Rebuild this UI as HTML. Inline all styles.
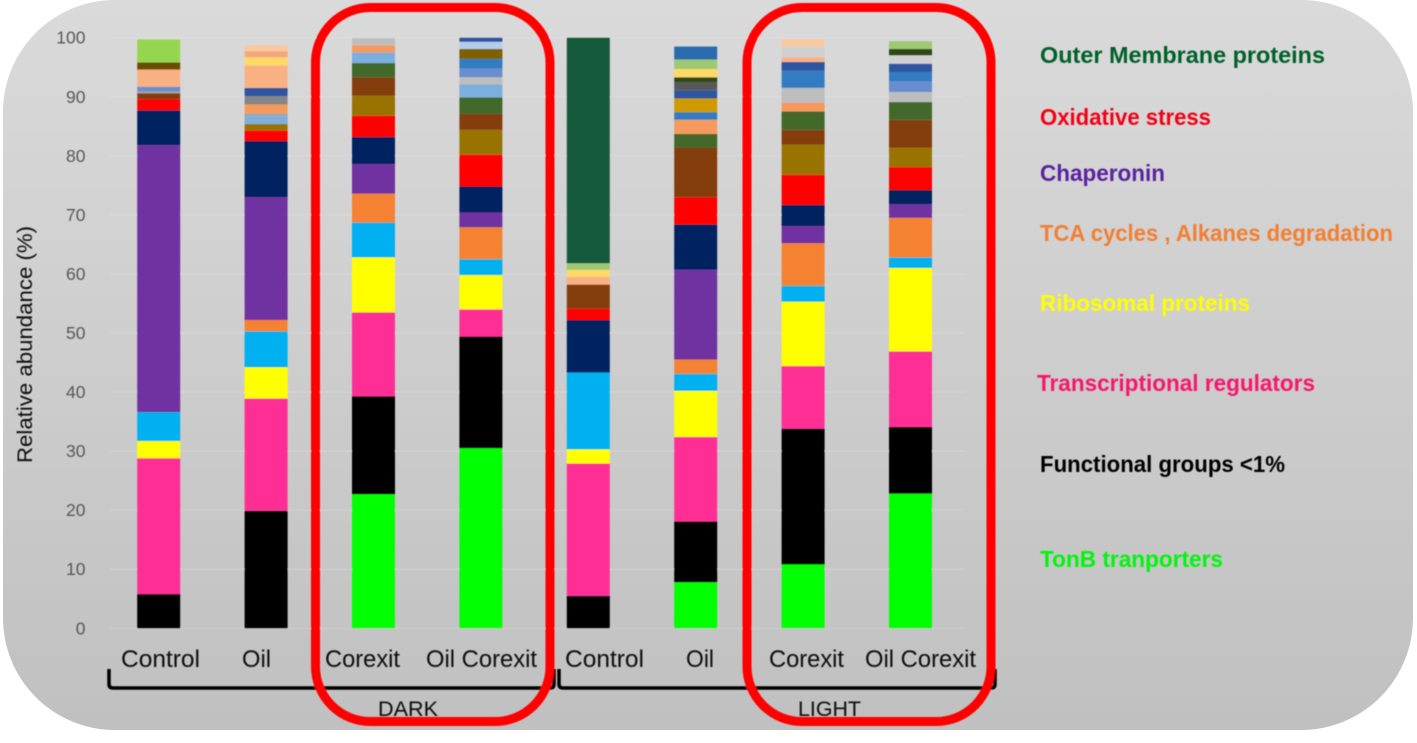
<!DOCTYPE html>
<html lang="en">
<head>
<meta charset="utf-8">
<title>Relative abundance of functional groups</title>
<style>
html,body{margin:0;padding:0;background:#fff;width:1417px;height:743px;overflow:hidden}
svg{display:block;font-family:"Liberation Sans",sans-serif}
.cat{font-size:24px;fill:#0b0b0b}
.leg{font-size:23px;font-weight:bold}
</style>
</head>
<body>
<svg id="chart" xmlns="http://www.w3.org/2000/svg" width="1417" height="743" viewBox="0 0 1417 743">
  <defs>
    <linearGradient id="panelFill" x1="0" y1="0" x2="0" y2="1">
      <stop offset="0" stop-color="#dadada"/>
      <stop offset="1" stop-color="#c0c0c0"/>
    </linearGradient>
    <filter id="soft" x="-2%" y="-2%" width="104%" height="104%"><feGaussianBlur stdDeviation="0.45"/></filter>
  </defs>
  <rect x="3" y="0" width="1410" height="730" rx="112" ry="112" fill="url(#panelFill)"/>
  <g filter="url(#soft)">
    <g id="grid"></g>
    <g id="ticks"></g>
    <g id="bars"></g>

    <text transform="translate(32,463) rotate(-90)" font-size="21" fill="#111" textLength="237" lengthAdjust="spacingAndGlyphs">Relative abundance (%)</text>

    <text class="cat" x="121" y="667" textLength="79" lengthAdjust="spacingAndGlyphs">Control</text>
    <text class="cat" x="242" y="667" textLength="29" lengthAdjust="spacingAndGlyphs">Oil</text>
    <text class="cat" x="325" y="667" textLength="75" lengthAdjust="spacingAndGlyphs">Corexit</text>
    <text class="cat" x="426" y="667" textLength="111" lengthAdjust="spacingAndGlyphs">Oil Corexit</text>
    <text class="cat" x="565" y="667" textLength="79" lengthAdjust="spacingAndGlyphs">Control</text>
    <text class="cat" x="686" y="667" textLength="28" lengthAdjust="spacingAndGlyphs">Oil</text>
    <text class="cat" x="769" y="667" textLength="75" lengthAdjust="spacingAndGlyphs">Corexit</text>
    <text class="cat" x="865" y="667" textLength="111" lengthAdjust="spacingAndGlyphs">Oil Corexit</text>

    <path d="M109 669 V684 Q109 688 113 688 H550 Q554 688 554 684 V669" fill="none" stroke="#000" stroke-width="3.5"/>
    <path d="M559 669 V684 Q559 688 563 688 H991 Q995 688 995 684 V669" fill="none" stroke="#000" stroke-width="3.5"/>
    <text x="378" y="716" font-size="21" fill="#0b0b0b" textLength="60" lengthAdjust="spacingAndGlyphs">DARK</text>
    <text x="798" y="716" font-size="21" fill="#0b0b0b" textLength="63" lengthAdjust="spacingAndGlyphs">LIGHT</text>

    <rect x="315.5" y="7.5" width="234.5" height="714" rx="55" ry="55" fill="none" stroke="#fe0000" stroke-width="9"/>
    <rect x="747" y="7.5" width="244" height="714" rx="55" ry="55" fill="none" stroke="#fe0000" stroke-width="9"/>

    <text class="leg" x="1040" y="63" fill="#06602a" textLength="285" lengthAdjust="spacingAndGlyphs">Outer Membrane proteins</text>
    <text class="leg" x="1040" y="125" fill="#f40012" textLength="171" lengthAdjust="spacingAndGlyphs">Oxidative stress</text>
    <text class="leg" x="1040" y="181" fill="#5a23a0" textLength="125" lengthAdjust="spacingAndGlyphs">Chaperonin</text>
    <text class="leg" x="1040" y="241" fill="#f27f33" textLength="353" lengthAdjust="spacingAndGlyphs">TCA cycles , Alkanes degradation</text>
    <text class="leg" x="1040" y="311" fill="#ffff00" textLength="210" lengthAdjust="spacingAndGlyphs">Ribosomal proteins</text>
    <text class="leg" x="1037" y="391" fill="#f8146c" textLength="278" lengthAdjust="spacingAndGlyphs">Transcriptional regulators</text>
    <text class="leg" x="1040" y="472" fill="#000" textLength="245" lengthAdjust="spacingAndGlyphs">Functional groups &lt;1%</text>
    <text class="leg" x="1040" y="567" fill="#00f510" textLength="183" lengthAdjust="spacingAndGlyphs">TonB tranporters</text>
  </g>
</svg>
<script>
const categories = ['dark-control','dark-oil','dark-corexit','dark-oil-corexit','light-control','light-oil','light-corexit','light-oil-corexit'];
const yTicks = [0,10,20,30,40,50,60,70,80,90,100];

const tonb       = [0,0,22.7,30.5,0,7.8,10.8,22.8];
const func       = [5.8,19.9,16.6,18.9,5.5,10.3,23.0,11.3];
const trans      = [23.0,19.0,14.2,4.6,22.4,14.3,10.6,12.8];
const ribo       = [2.9,5.3,9.3,5.8,2.4,7.8,10.9,14.1];
const cyan       = [4.9,6.1,5.9,2.7,13.0,2.9,2.7,1.8];
const tca        = [0,1.9,4.9,5.4,0,2.4,7.2,6.7];
const chap       = [45.2,20.8,5.0,2.5,0,15.2,2.9,2.3];
const navy       = [5.9,9.5,4.6,4.4,8.9,7.7,3.6,2.4];
const oxid       = [1.9,1.8,3.6,5.4,1.9,4.6,5.1,3.9];
const gold       = [0,1.1,3.4,4.2,0,0,5.1,3.3];
const brown      = [1.0,0,3.1,2.7,4.1,8.4,2.5,4.7];
const dkgreen    = [0,0,2.4,2.8,0,2.3,3.1,3.0];
const ltblue     = [0,1.3,1.8,2.2,0,0,0,0];
const gray1      = [0.3,0.5,0,0,0,0,0,0];
const orange2    = [0,1.5,1.2,0,0,2.4,1.5,0];
const gray2      = [0,0,1.2,1.2,0,0,2.5,1.7];
const corn       = [0.8,0,0,1.5,0,0,0,1.8];
const midgray    = [0,1.4,0,0,0,0,0,0];
const blue       = [0,0,0,1.6,0,1.3,2.9,1.6];
const gold2      = [0,0,0,1.7,0,0,0,0];
const goldbright = [0,0,0,0,0,2.3,0,0];
const pale       = [0,0,0,1.2,0,0,0,0];
const royal      = [0,1.4,0,0.7,0,1.4,1.5,1.4];
const dkgray     = [0,0,0,0,0,1.4,0,0];
const peach      = [2.9,3.8,0,0,1.3,0,0.8,0];
const ltgray     = [0,0,0,0,0,0,1.8,1.4];
const dkgreen2   = [0,0,0,0,0,0.8,0,1.1];
const ylight     = [0,1.4,0,0,1.2,1.4,0,0];
const salmon     = [0,1.0,0,0,0,0,0,0];
const palepeach  = [0,1.0,0,0,0,0,1.2,0];
const ltgreen    = [0,0,0,0,1.1,1.6,0,1.3];
const blue2      = [0,0,0,0,0,2.2,0,0];
const forest     = [0,0,0,0,38.2,0,0,0];
const olive      = [1.2,0,0,0,0,0,0,0];
const brightgreen= [3.9,0,0,0,0,0,0,0];

const seriesNames = ['tonb','functional','transcriptional','ribosomal','cyan','tca','chaperonin','navy','oxidative','gold','brown','dark-green','light-blue','gray-a','orange-b','gray-b','cornflower','mid-gray','blue','gold-dark','gold-bright','pale-blue','royal','dark-gray','peach','light-gray','dark-green-b','light-yellow','salmon','pale-peach','light-green','steel-blue','outer-membrane','olive','bright-green'];
const seriesColors = ['#00ff00','#000000','#ff2d95','#ffff00','#00b0f0','#f58230','#7030a0','#002060','#ff0000','#997300','#843c0c','#43682b','#7cafdd','#a5a5a5','#f6995c','#bdbdbd','#698ed0','#858585','#327dc2','#7f6000','#cf9a00','#b4cdea','#2f55a0','#595959','#f9b184','#d0d0d0','#2f4a14','#ffd966','#f4a77c','#fbc89e','#9dc973','#2a6aad','#145a3c','#6b4e00','#96d550'];
const seriesValues = [tonb,func,trans,ribo,cyan,tca,chap,navy,oxid,gold,brown,dkgreen,ltblue,gray1,orange2,gray2,corn,midgray,blue,gold2,goldbright,pale,royal,dkgray,peach,ltgray,dkgreen2,ylight,salmon,palepeach,ltgreen,blue2,forest,olive,brightgreen];

const NS = 'http://www.w3.org/2000/svg';
const yScale = v => 628.3 - v * 5.906;
const xScale = i => 158.7 + i * 107.4;
const barWidth = 43;

const gridG = document.getElementById('grid');
const tickG = document.getElementById('ticks');
yTicks.forEach(t => {
  const line = document.createElementNS(NS, 'line');
  
  
  line.setAttribute('x1', 110);
  line.setAttribute('x2', 965);
  line.setAttribute('y1', yScale(t));
  line.setAttribute('y2', yScale(t));
  line.setAttribute('stroke', '#e6e6e6');
  line.setAttribute('stroke-opacity', '0.3');
  line.setAttribute('stroke-width', '1.2');
  gridG.appendChild(line);
  const label = document.createElementNS(NS, 'text');
  
  
  label.setAttribute('x', 85.5);
  label.setAttribute('y', yScale(t) + 6);
  label.setAttribute('text-anchor', 'end');
  label.setAttribute('font-size', '17.5');
  label.setAttribute('fill', '#595959');
  label.textContent = String(t);
  tickG.appendChild(label);
});

const barG = document.getElementById('bars');
categories.forEach((cat, i) => {
  let base = 0;
  seriesValues.forEach((vals, s) => {
    const v = vals[i];
    if (!v) return;
    const rect = document.createElementNS(NS, 'rect');
    
    
    rect.setAttribute('x', xScale(i) - barWidth / 2);
    rect.setAttribute('width', barWidth);
    rect.setAttribute('y', yScale(base + v));
    rect.setAttribute('height', yScale(base) - yScale(base + v));
    rect.setAttribute('fill', seriesColors[s]);
    barG.appendChild(rect);
    base += v;
  });
});
</script>
</body>
</html>
